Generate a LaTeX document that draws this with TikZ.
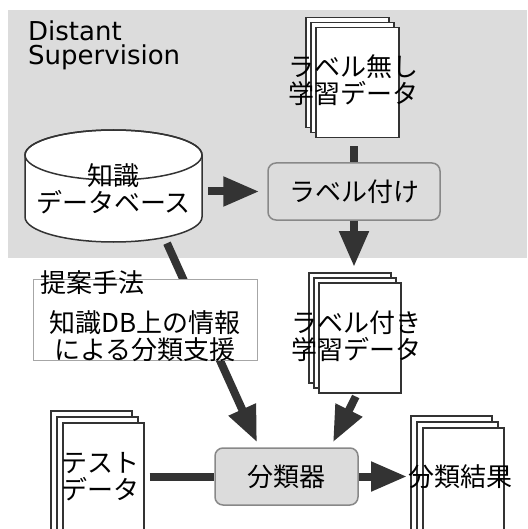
\documentclass[tikz,border=0pt]{standalone}
\usepackage{fontspec}
\setmainfont{DejaVu Sans}
\newfontfamily\jp{Noto Sans CJK JP}
\usetikzlibrary{arrows.meta,calc}
\definecolor{bggray}{HTML}{DCDCDC}
\definecolor{arrc}{HTML}{333333}
\definecolor{boxline}{HTML}{888888}
\tikzset{
  sheet/.style={draw=arrc, line width=1.5pt, fill=white, inner sep=0pt, anchor=north west},
  jptext/.style={font=\jp\fontsize{26}{27}\selectfont, align=center, inner sep=0pt},
  procbox/.style={draw=boxline, line width=1.5pt, fill=bggray, rounded corners=8pt, inner sep=0pt},
  arr/.style={draw=arrc, line width=8pt, -{Triangle[length=36pt,width=28pt]}},
  conn/.style={draw=arrc, line width=8pt},
}
\newcommand\docstack[6]{% name, left, top, width, height, offset
  \node[sheet, minimum width=#4pt, minimum height=#5pt] (#1-c) at (#2-2*#6,#3-2*#6) {};
  \node[sheet, minimum width=#4pt, minimum height=#5pt] (#1-b) at (#2-#6,#3-#6) {};
  \node[sheet, minimum width=#4pt, minimum height=#5pt] (#1) at (#2,#3) {};
}
\begin{document}
\begin{tikzpicture}[x=1pt,y=-1pt]
\useasboundingbox (0,0) rectangle (527,529);
\clip (0,0) rectangle (527,529);
% Distant supervision area
\fill[bggray] (8,10) rectangle (527,258);
\node[anchor=base west, align=left, inner sep=0pt, font=\fontsize{26}{24}\selectfont] (ds) at (28,65) {Distant\\Supervision};

% knowledge database cylinder
\draw[draw=arrc, line width=1.5pt, fill=white] (25,155) -- (25,217)
  arc[start angle=180, end angle=0, x radius=88.5, y radius=25] -- (202,155)
  arc[start angle=0, end angle=-180, x radius=88.5, y radius=25] -- cycle;
\draw[draw=arrc, line width=1.5pt] (113.5,155) ellipse [x radius=88.5, y radius=25];
\node[jptext, minimum width=177pt, minimum height=112pt] (db) at (113.5,189) {知識\\データベース};

% unlabeled training data
\docstack{unl}{315}{27}{83}{110}{5}
\node[jptext] (unlt) at (353,80) {ラベル無し\\学習データ};

% labelling
\node[procbox, minimum width=172pt, minimum height=57pt, jptext] (lab) at (354,191.5) {ラベル付け};

% labeled training data
\docstack{ldoc}{318}{282}{82}{110}{5}
\node[jptext] (ldoct) at (356,336) {ラベル付き\\学習データ};

% classifier
\node[procbox, minimum width=143pt, minimum height=57pt, jptext] (cls) at (286.5,476.5) {分類器};

% test data
\docstack{test}{62}{422}{81}{130}{6}
\node[jptext] (testt) at (100,477) {テスト\\データ};

% results
\docstack{res}{422}{427}{81}{130}{6}
\node[jptext] (rest) at (460,477) {分類結果};

% connectors
\draw[arr, shorten <=6pt, shorten >=8pt] (db.east |- lab.west) -- (lab.west);
\draw[conn, shorten <=8pt] (lab.north |- unl.south) -- (lab.north);
\draw[arr, shorten >=15pt] (lab.south) -- (lab.south |- ldoc.north);
\draw[arr] ($(db.south)+(53.5,-2)$) -- ($(cls.north)+(-29.5,-5)$);
\draw[arr] ($(ldoc.south)+(-4,3)$) -- ($(cls.north)+(46.5,-5)$);
\draw[conn, shorten <=5pt] (test.east |- cls.west) -- (cls.west);
\draw[arr, shorten >=15pt] (cls.east) -- (cls.east -| res.west);

% proposed method box
\node[draw=gray!70, line width=1pt, fill=white, minimum width=224pt, minimum height=81pt, inner sep=0pt] (prop) at (145,319.5) {};
\node[jptext, anchor=west] (propl) at (40,283) {提案手法};
\node[jptext] (propt) at (145,336) {知識DB上の情報\\による分類支援};
\end{tikzpicture}
\end{document}
